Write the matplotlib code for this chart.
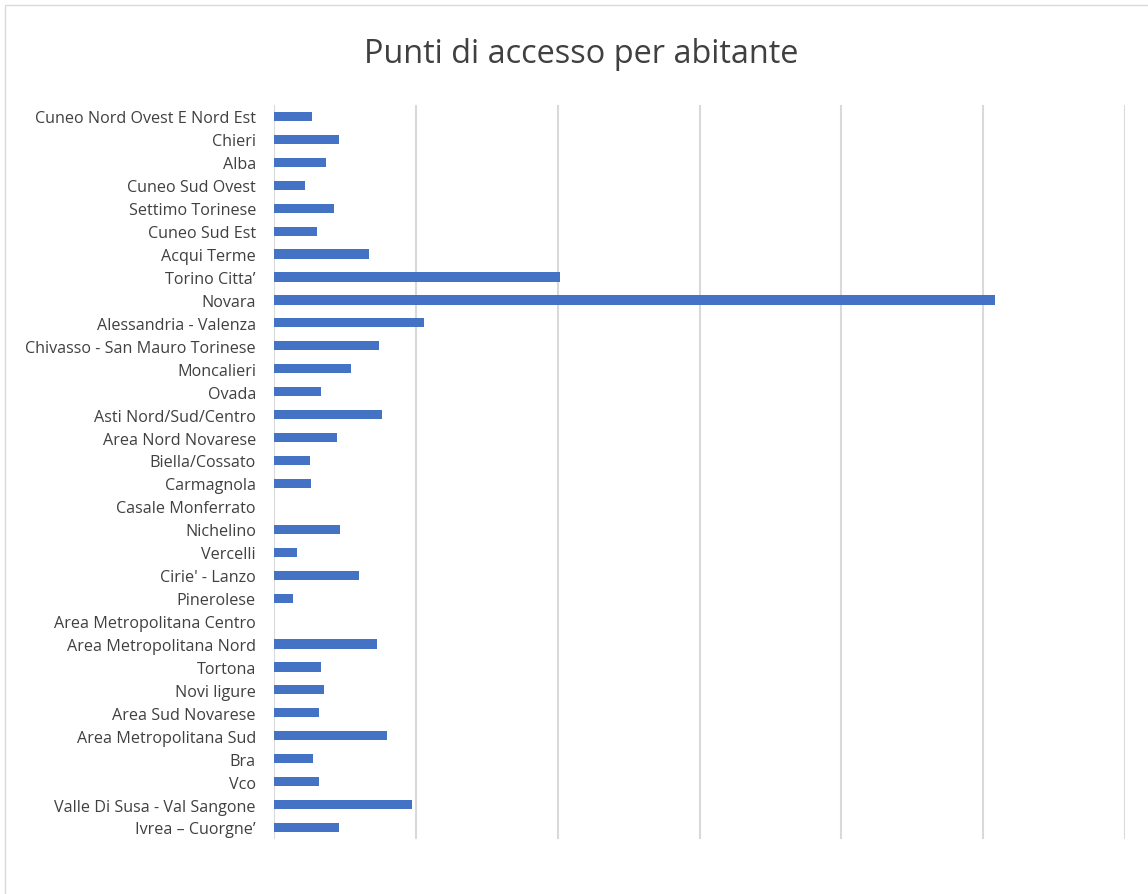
import matplotlib
matplotlib.use("Agg")
import matplotlib.pyplot as plt
from matplotlib.patches import Rectangle

plt.rcParams["font.family"] = ["Open Sans", "DejaVu Sans"]

# categorie dall'alto verso il basso
categories = [
    "Cuneo Nord Ovest E Nord Est", "Chieri", "Alba", "Cuneo Sud Ovest",
    "Settimo Torinese", "Cuneo Sud Est", "Acqui Terme", "Torino Citta\u2019",
    "Novara", "Alessandria - Valenza", "Chivasso - San Mauro Torinese",
    "Moncalieri", "Ovada", "Asti Nord/Sud/Centro", "Area Nord Novarese",
    "Biella/Cossato", "Carmagnola", "Casale Monferrato", "Nichelino",
    "Vercelli", "Cirie' - Lanzo", "Pinerolese", "Area Metropolitana Centro",
    "Area Metropolitana Nord", "Tortona", "Novi ligure", "Area Sud Novarese",
    "Area Metropolitana Sud", "Bra", "Vco", "Valle Di Susa - Val Sangone",
    "Ivrea \u2013 Cuorgne\u2019",
]
values = [
    0.27, 0.457, 0.368, 0.218, 0.42, 0.30, 0.671, 2.016,
    5.085, 1.057, 0.739, 0.543, 0.331, 0.762, 0.444,
    0.254, 0.261, 0.0, 0.465, 0.162, 0.599, 0.134, 0.0,
    0.724, 0.329, 0.350, 0.317, 0.799, 0.273, 0.317, 0.975,
    0.456,
]

fig = plt.figure(figsize=(11.48, 8.95), dpi=100)
ax = fig.add_axes([0.2387, 0.0615, 0.7413, 0.8201])

y = list(range(len(categories)))
ax.barh(y, values, height=0.4, color="#4472C4", zorder=3)
ax.set_ylim(len(categories) - 0.5, -0.5)
ax.set_xlim(0, 6)
ax.set_xticks(range(7))
ax.set_xticklabels([])
ax.tick_params(axis="x", length=0)
ax.tick_params(axis="y", length=0, pad=13, labelsize=11.6, labelcolor="#404040")
ax.set_yticks(y)
ax.set_yticklabels(categories)
ax.grid(axis="x", color="#d9d9d9", linewidth=1.5, zorder=0)
for s in ax.spines.values():
    s.set_visible(False)

fig.text(0.506, 0.939, "Punti di accesso per abitante", ha="center", va="center",
         fontsize=23.4, color="#404040")

# cornice esterna del grafico
fig.patches.append(Rectangle((0.004, -0.01), 1.2, 1.003, transform=fig.transFigure,
                             fill=False, edgecolor="#d9d9d9", linewidth=1))

fig.savefig("out.png", dpi=100)
